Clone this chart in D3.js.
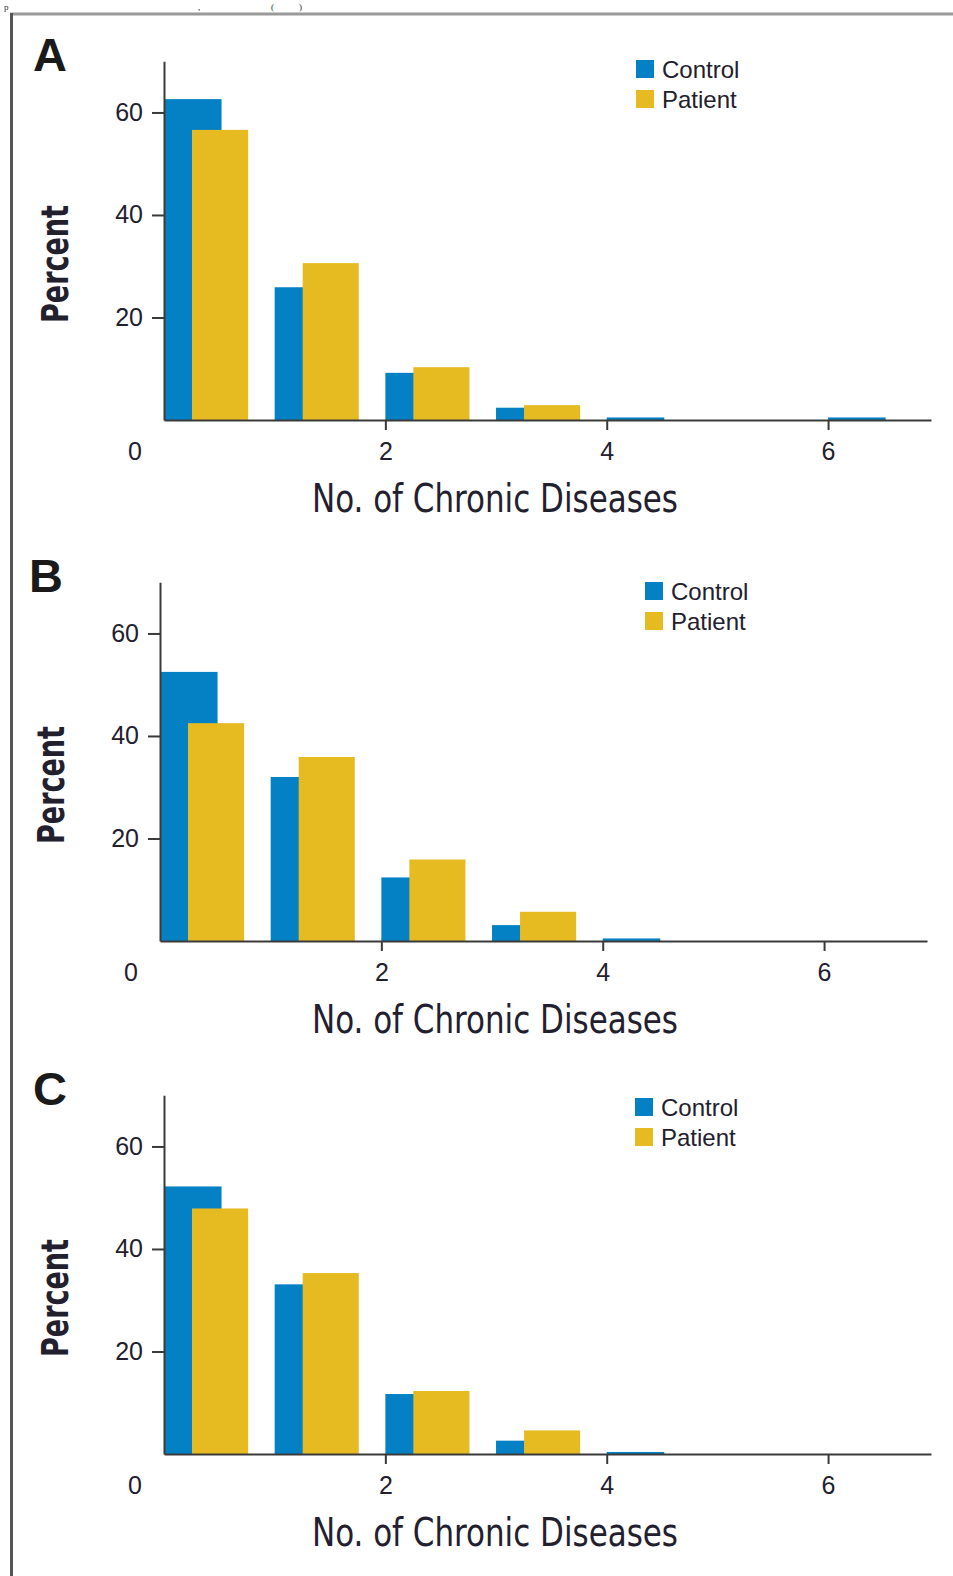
<!DOCTYPE html>
<html>
<head>
<meta charset="utf-8">
<script src="https://cdn.jsdelivr.net/npm/d3@7/dist/d3.min.js"></script>
<style>
  html, body { margin: 0; padding: 0; background: #fff; }
  svg { display: block; }
</style>
</head>
<body>
<script>
// ---- data ----
const categories = [0, 1, 2, 3, 4, 5, 6];
const panelLetters = ["A", "B", "C"];
const seriesNames = ["Control", "Patient"];
const controlA = [62.6, 25.9, 9.2, 2.4, 0.5, 0, 0.5];
const patientA = [56.6, 30.6, 10.3, 2.9, 0, 0, 0];
const controlB = [52.5, 32.0, 12.4, 3.1, 0.5, 0, 0];
const patientB = [42.5, 35.9, 15.9, 5.7, 0, 0, 0];
const controlC = [52.2, 33.1, 11.7, 2.6, 0.4, 0, 0];
const patientC = [47.9, 35.3, 12.3, 4.6, 0, 0, 0];
const yTicks = [20, 40, 60];
const xTicks = [2, 4, 6];
const originLabel = "0";
const xTitle = "No. of Chronic Diseases";
const yTitle = "Percent";

const W = 953, H = 1576;
const colors = { Control: "#0480c4", Patient: "#e6bb22" };
const textColor = "#23202e";

const svg = d3.select("body").append("svg").attr("width", W).attr("height", H);

// page fragment at top (cut-off text line) and frame
const topText = svg.append("g").attr("font-family", "'Liberation Serif', serif").attr("font-size", 9).attr("fill", "#333");
topText.append("text").attr("x", 4).attr("y", 10).text("p");
topText.append("text").attr("x", 198).attr("y", 10).text(",");
topText.append("text").attr("x", 271).attr("y", 10).text("(");
topText.append("text").attr("x", 299).attr("y", 10).text(")");
svg.append("line").attr("x1", 10).attr("x2", W).attr("y1", 14).attr("y2", 14)
  .attr("stroke", "#9a9a9a").attr("stroke-width", 3);
svg.append("line").attr("x1", 11.5).attr("x2", 11.5).attr("y1", 13).attr("y2", H)
  .attr("stroke", "#555").attr("stroke-width", 3);

// panel layout (axis origin and legend placement)
const panels = [
  { letter: panelLetters[0], control: controlA, patient: patientA, x0: 164, base: 420, legX: 636, legY: 60 },
  { letter: panelLetters[1], control: controlB, patient: patientB, x0: 160, base: 941, legX: 645, legY: 582 },
  { letter: panelLetters[2], control: controlC, patient: patientC, x0: 164, base: 1454, legX: 635, legY: 1098 }
];

const plotW = 767, plotH = 358.8;
const xMax = 6.93, yMax = 70;

panels.forEach(p => {
  const g = svg.append("g").attr("transform", `translate(${p.x0},${p.base - plotH})`);
  const x = d3.scaleLinear().domain([0, xMax]).range([0, plotW]);
  const y = d3.scaleLinear().domain([0, yMax]).range([plotH, 0]);

  // bars: control first, patient overlapping on top
  g.selectAll("rect.c").data(categories.map((c, i) => ({ c, v: p.control[i] })).filter(d => d.v > 0))
    .enter().append("rect")
    .attr("x", d => x(d.c)).attr("width", d => x(d.c + 0.52) - x(d.c))
    .attr("y", d => y(d.v)).attr("height", d => y(0) - y(d.v))
    .attr("fill", colors.Control);
  g.selectAll("rect.p").data(categories.map((c, i) => ({ c, v: p.patient[i] })).filter(d => d.v > 0))
    .enter().append("rect")
    .attr("x", d => x(d.c + 0.253)).attr("width", d => x(d.c + 0.76) - x(d.c + 0.253))
    .attr("y", d => y(d.v)).attr("height", d => y(0) - y(d.v))
    .attr("fill", colors.Patient);

  // axes
  const yAxis = d3.axisLeft(y).tickValues(yTicks).tickFormat(d3.format("d"))
    .tickSize(12).tickSizeOuter(0).tickPadding(9);
  const xAxis = d3.axisBottom(x).tickValues(xTicks).tickFormat(d3.format("d"))
    .tickSize(10).tickSizeOuter(0).tickPadding(12);
  const ya = g.append("g").call(yAxis);
  const xa = g.append("g").attr("transform", `translate(0,${plotH})`).call(xAxis);
  [ya, xa].forEach(a => {
    a.selectAll("path.domain").attr("stroke", "#3a3a3a").attr("stroke-width", 2);
    a.selectAll(".tick line").attr("stroke", "#3a3a3a").attr("stroke-width", 2);
    a.selectAll(".tick text").attr("fill", textColor)
      .attr("font-family", "'Liberation Sans', Arial, sans-serif").attr("font-size", 25);
  });

  // origin label
  g.append("text").attr("x", -29).attr("y", plotH + 40).attr("text-anchor", "middle")
    .attr("font-family", "'Liberation Sans', Arial, sans-serif").attr("font-size", 25)
    .attr("fill", textColor).text(originLabel);

  // x title
  svg.append("text").attr("x", 495).attr("y", p.base + 91.5).attr("text-anchor", "middle")
    .attr("font-family", "'Liberation Sans Narrow', 'DejaVu Sans Condensed', sans-serif")
    .attr("font-size", 39).attr("textLength", 366).attr("lengthAdjust", "spacingAndGlyphs")
    .attr("fill", textColor).text(xTitle);

  // y title
  svg.append("text")
    .attr("transform", `translate(${p.x0 - 96},${p.base - 156}) rotate(-90)`)
    .attr("text-anchor", "middle")
    .attr("font-family", "'Liberation Sans Narrow', 'DejaVu Sans Condensed', sans-serif")
    .attr("font-weight", "bold").attr("font-size", 38)
    .attr("textLength", 118).attr("lengthAdjust", "spacingAndGlyphs")
    .attr("fill", textColor).text(yTitle);

  // panel letter
  svg.append("text").attr("x", p.x0 - 131).attr("y", p.base - 349)
    .attr("font-family", "'Liberation Sans', Arial, sans-serif").attr("font-weight", "bold")
    .attr("font-size", 47).attr("fill", "#1a1a1a").text(p.letter);

  // legend
  seriesNames.forEach((s, i) => {
    svg.append("rect").attr("x", p.legX).attr("y", p.legY + i * 30).attr("width", 18).attr("height", 18)
      .attr("fill", colors[s]);
    svg.append("text").attr("x", p.legX + 26).attr("y", p.legY + i * 30 + 18)
      .attr("font-family", "'Liberation Sans', Arial, sans-serif").attr("font-size", 24)
      .attr("fill", textColor).text(s);
  });
});
</script>
</body>
</html>
